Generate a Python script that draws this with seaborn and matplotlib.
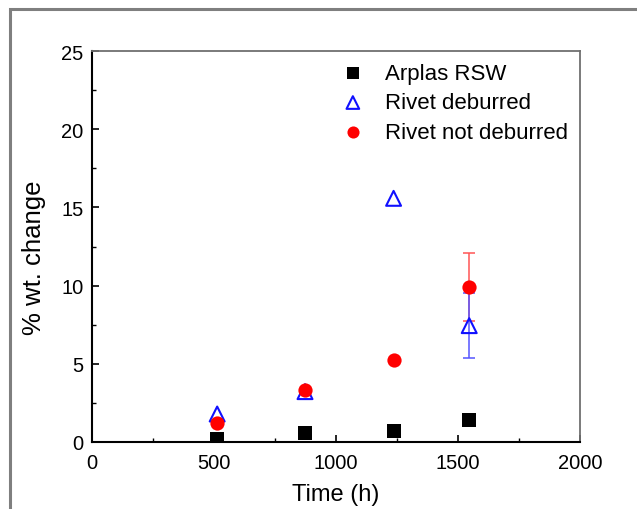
import matplotlib
matplotlib.use("Agg")
import matplotlib.pyplot as plt
from matplotlib.patches import Rectangle
from matplotlib.ticker import MultipleLocator
import seaborn as sns
import pandas as pd

# values
time_h = [513, 873, 1236, 1546]
arplas_rsw = [0.19, 0.56, 0.68, 1.43]
rivet_deburred = [1.79, 3.22, 15.58, 7.44]
rivet_not_deburred = [1.21, 3.35, 5.24, 9.89]
err_deburred = [0, 0, 0, 2.1]
err_not_deburred = [0, 0, 0, 2.17]

series_names = ['Arplas RSW', 'Rivet deburred', 'Rivet not deburred']

df = pd.DataFrame({
    'time': time_h * 3,
    'change': arplas_rsw + rivet_deburred + rivet_not_deburred,
    'series': [s for s in series_names for _ in time_h],
})

sns.set_style('ticks')
plt.rcParams['font.family'] = ['Liberation Sans', 'DejaVu Sans']
plt.rcParams['text.color'] = 'black'
plt.rcParams['axes.labelcolor'] = 'black'
plt.rcParams['xtick.color'] = 'black'
plt.rcParams['ytick.color'] = 'black'

fig = plt.figure(figsize=(6.37, 5.10), dpi=100)
ax = fig.add_axes([92 / 637, 1 - 443 / 510, 488 / 637, 391 / 510])

# grey frame of the screenshot
fig.patches.append(Rectangle((10 / 637, -0.2), 1.2, 1 - 10 / 510 + 0.2,
                             transform=fig.transFigure, fill=False,
                             edgecolor='#7f7f7f', linewidth=2.2, zorder=0))

# error bars first so markers sit on top
ax.errorbar(time_h[3], rivet_not_deburred[3], yerr=err_not_deburred[3],
            fmt='none', ecolor='#ff5555', elinewidth=1.1, capsize=4.5, capthick=1.1, zorder=2)
ax.errorbar(time_h[3], rivet_deburred[3], yerr=err_deburred[3],
            fmt='none', ecolor='#5555ff', elinewidth=1.1, capsize=4.5, capthick=1.1, zorder=2)

sns.scatterplot(data=df[df.series == 'Arplas RSW'], x='time', y='change', ax=ax,
                marker='s', s=95, color='black', linewidth=0, label='Arplas RSW', zorder=3)
sns.scatterplot(data=df[df.series == 'Rivet deburred'], x='time', y='change', ax=ax,
                marker='^', s=115, facecolor='none', edgecolor='#1010ff', linewidth=1.5,
                label='Rivet deburred', zorder=3)
sns.scatterplot(data=df[df.series == 'Rivet not deburred'], x='time', y='change', ax=ax,
                marker='o', s=105, color='#ff0000', linewidth=0, label='Rivet not deburred', zorder=4)

ax.set_xlim(0, 2000)
ax.set_ylim(0, 25)
ax.xaxis.set_major_locator(MultipleLocator(500))
ax.xaxis.set_minor_locator(MultipleLocator(250))
ax.yaxis.set_major_locator(MultipleLocator(5))
ax.yaxis.set_minor_locator(MultipleLocator(2.5))
ax.tick_params(which='major', direction='in', length=5, width=1.2, labelsize=14.5)
ax.tick_params(axis='x', which='major', pad=8)
ax.tick_params(axis='y', which='major', pad=6)
ax.tick_params(which='minor', direction='in', length=3, width=1.0)

ax.set_xlabel('Time (h)', fontsize=17, labelpad=8)
ax.set_ylabel('% wt. change', fontsize=18.5)
ax.yaxis.set_label_coords(-0.094, 0.473)

for side in ['left', 'bottom']:
    ax.spines[side].set_color('black')
    ax.spines[side].set_linewidth(1.5)
for side in ['top', 'right']:
    ax.spines[side].set_color('#707070')
    ax.spines[side].set_linewidth(1.3)

leg = ax.legend(loc='upper right', bbox_to_anchor=(1.012, 1.015), frameon=False,
                fontsize=16, handletextpad=0.45, labelspacing=0.38, borderaxespad=0.4,
                markerscale=0.85)

fig.savefig('out.png', dpi=100)
